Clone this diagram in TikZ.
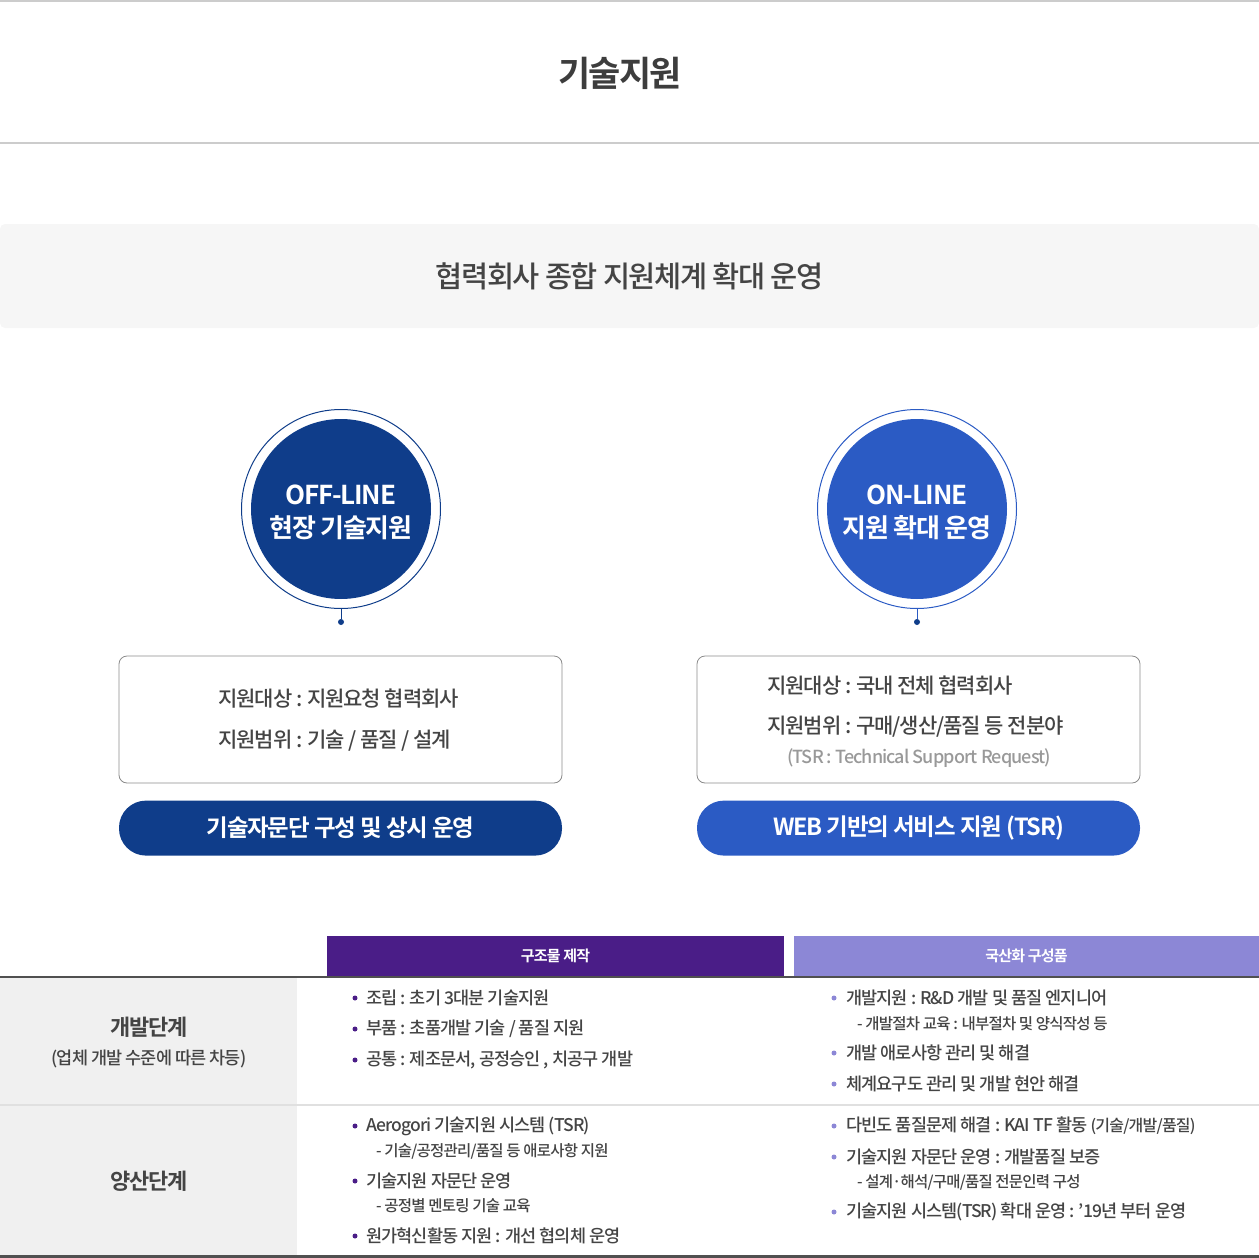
\documentclass[tikz,border=0pt]{standalone}
\usepackage{fontspec}
\setmainfont{Noto Sans CJK KR}[UprightFont=* Medium, BoldFont=* Bold, LetterSpace=-5]
\usetikzlibrary{positioning}
\definecolor{ink}{HTML}{444444}
\definecolor{titleink}{HTML}{3D3D3D}
\definecolor{rule}{HTML}{CCCCCC}
\definecolor{band}{HTML}{F6F6F6}
\definecolor{navy}{HTML}{0F3D8A}
\definecolor{royal}{HTML}{2B5BC4}
\definecolor{boxline}{HTML}{8A8A8A}
\definecolor{muted}{HTML}{999999}
\definecolor{grape}{HTML}{4A1D87}
\definecolor{lavender}{HTML}{8C87D6}
\definecolor{cellgray}{HTML}{F0F0F0}
\definecolor{rowline}{HTML}{E0E0E0}
\definecolor{darkline}{HTML}{505050}
\tikzset{
  pagerule/.style={draw=rule, line width=1.2pt},
  disc/.style={
    circle,
    inner sep=0pt,
    minimum size=180pt,
    text=white,
    align=center,
    font=\bfseries\fontsize{26}{32}\selectfont
  },
  ring/.style={
    circle,
    draw,
    line width=1pt,
    inner sep=0pt,
    minimum size=199pt
  },
  stemdot/.style={circle, inner sep=0pt, minimum size=6pt},
  infobox/.style={
    rectangle,
    rounded corners=8pt,
    draw=boxline,
    line width=0.8pt,
    minimum width=443pt,
    minimum height=127pt
  },
  infotext/.style={
    anchor=west,
    inner sep=0pt,
    text=ink,
    font=\fontsize{21}{26}\selectfont
  },
  pill/.style={
    rectangle,
    rounded corners=27pt,
    minimum width=443pt,
    minimum height=55pt,
    text=white,
    font=\bfseries\fontsize{23.5}{28}\selectfont
  },
  headcell/.style={
    rectangle,
    inner sep=0pt,
    minimum height=41pt,
    text=white,
    font=\bfseries\fontsize{15}{18}\selectfont
  },
  rowlabel/.style={text=ink, font=\bfseries\fontsize{22}{26}\selectfont},
  item/.style={anchor=west, inner sep=0pt, text=ink, font=\fontsize{17.5}{21}\selectfont},
  subitem/.style={item, font=\fontsize{15.5}{18}\selectfont},
  bullet/.style={circle, inner sep=0pt, minimum size=5pt}
}

\begin{document}
\begin{tikzpicture}[x=1pt, y=-1pt]
  \useasboundingbox (0,0) rectangle (1259,1258);

  \draw[pagerule] (0,1) -- (1259,1);
  \node[text=titleink, font=\bfseries\fontsize{35}{40}\selectfont] (title) at (620,73) {기술지원};
  \draw[pagerule] (0,143) -- (1259,143);

  \node[rectangle, rounded corners=5pt, fill=band, minimum width=1259pt, minimum height=104pt, text=ink,
        font=\fontsize{29.5}{34}\selectfont] (banner) at (629.5,276) {협력회사 종합 지원체계 확대 운영};

  \node[ring, draw=navy] (offring) at (341,509) {};
  \node[disc, fill=navy] (offdisc) at (offring.center) {};
  \node[text=white, align=center, font=\bfseries\fontsize{26}{32}\selectfont] (offtitle) at (341,512) {OFF-LINE\\[1pt]현장 기술지원};
  \node[stemdot, fill=navy] (offdot) at (341,622) {};
  \draw[navy, line width=1pt] (offring.south) -- (offdot);

  \node[ring, draw=royal] (onring) at (917,509) {};
  \node[disc, fill=royal] (ondisc) at (onring.center) {};
  \node[text=white, align=center, font=\bfseries\fontsize{26}{32}\selectfont] (ontitle) at (917,512) {ON-LINE\\[1pt]지원 확대 운영};
  \node[stemdot, fill=navy] (ondot) at (917,622) {};
  \draw[royal, line width=1pt] (onring.south) -- (ondot);

  \node[infobox] (offbox) at (340.5,719.5) {};
  \node[infotext] (offtarget) at (218,699) {지원대상 : 지원요청 협력회사};
  \node[infotext] (offrange) at (218,741) {지원범위 : 기술 / 품질 / 설계};
  \node[pill, fill=navy, below=17pt of offbox] (offpill) {기술자문단 구성 및 상시 운영};

  \node[infobox] (onbox) at (918.5,719.5) {};
  \node[infotext] (ontarget) at (767,686) {지원대상 : 국내 전체 협력회사};
  \node[infotext] (onrange) at (767,727) {지원범위 : 구매/생산/품질 등 전분야};
  \node[text=muted, font=\fontsize{18}{22}\selectfont] (tsrnote) at (919,758) {(TSR : Technical Support Request)};
  \node[pill, fill=royal, below=17pt of onbox] (onpill) {WEB 기반의 서비스 지원 (TSR)};

  \fill[cellgray] (0,978) rectangle (297,1256);
  \node[headcell, fill=grape, minimum width=457pt] (structhead) at (555.5,956) {구조물 제작};
  \node[headcell, fill=lavender, minimum width=465pt] (parthead) at (1026.5,956) {국산화 구성품};
  \draw[darkline, line width=2pt] (0,977) -- (1259,977);
  \draw[rowline, line width=2pt] (0,1105) -- (1259,1105);
  \draw[darkline, line width=3pt] (0,1256.5) -- (1259,1256.5);

  \node[rowlabel] (devlabel) at (149,1027) {개발단계};
  \node[text=ink, font=\fontsize{17.5}{21}\selectfont, below=6pt of devlabel] (devnote) {(업체 개발 수준에 따른 차등)};
  \node[rowlabel] (prodlabel) at (149,1181) {양산단계};

  \foreach \y/\t [count=\i] in {998/{조립 : 초기 3대분 기술지원},
                                1029/{부품 : 초품개발 기술 / 품질 지원},
                                1060/{공통 : 제조문서, 공정승인 , 치공구 개발},
                                1126/{Aerogori 기술지원 시스템 (TSR)},
                                1181/{기술지원 자문단 운영},
                                1236/{원가혁신활동 지원 : 개선 협의체 운영}} {
    \node[bullet, fill=grape] (sdot\i) at (355,\y) {};
    \node[item] (sitem\i) at (366,\y) {\t};
  }
  \node[subitem] (ssub1) at (376,1151) {- 기술/공정관리/품질 등 애로사항 지원};
  \node[subitem] (ssub2) at (376,1206) {- 공정별 멘토링 기술 교육};

  \foreach \y/\t [count=\i] in {998/{개발지원 : R\&D 개발 및 품질 엔지니어},
                                1053/{개발 애로사항 관리 및 해결},
                                1084/{체계요구도 관리 및 개발 현안 해결},
                                1126/{다빈도 품질문제 해결 : KAI TF 활동 {\fontsize{16}{19}\selectfont(기술/개발/품질)}},
                                1157/{기술지원 자문단 운영 : 개발품질 보증},
                                1212/{기술지원 시스템(TSR) 확대 운영 : ’19년 부터 운영}} {
    \node[bullet, fill=lavender] (pdot\i) at (834,\y) {};
    \node[item] (pitem\i) at (846,\y) {\t};
  }
  \node[subitem] (psub1) at (857,1024) {- 개발절차 교육 : 내부절차 및 양식작성 등};
  \node[subitem] (psub2) at (857,1182) {- 설계·해석/구매/품질 전문인력 구성};
\end{tikzpicture}
\end{document}
